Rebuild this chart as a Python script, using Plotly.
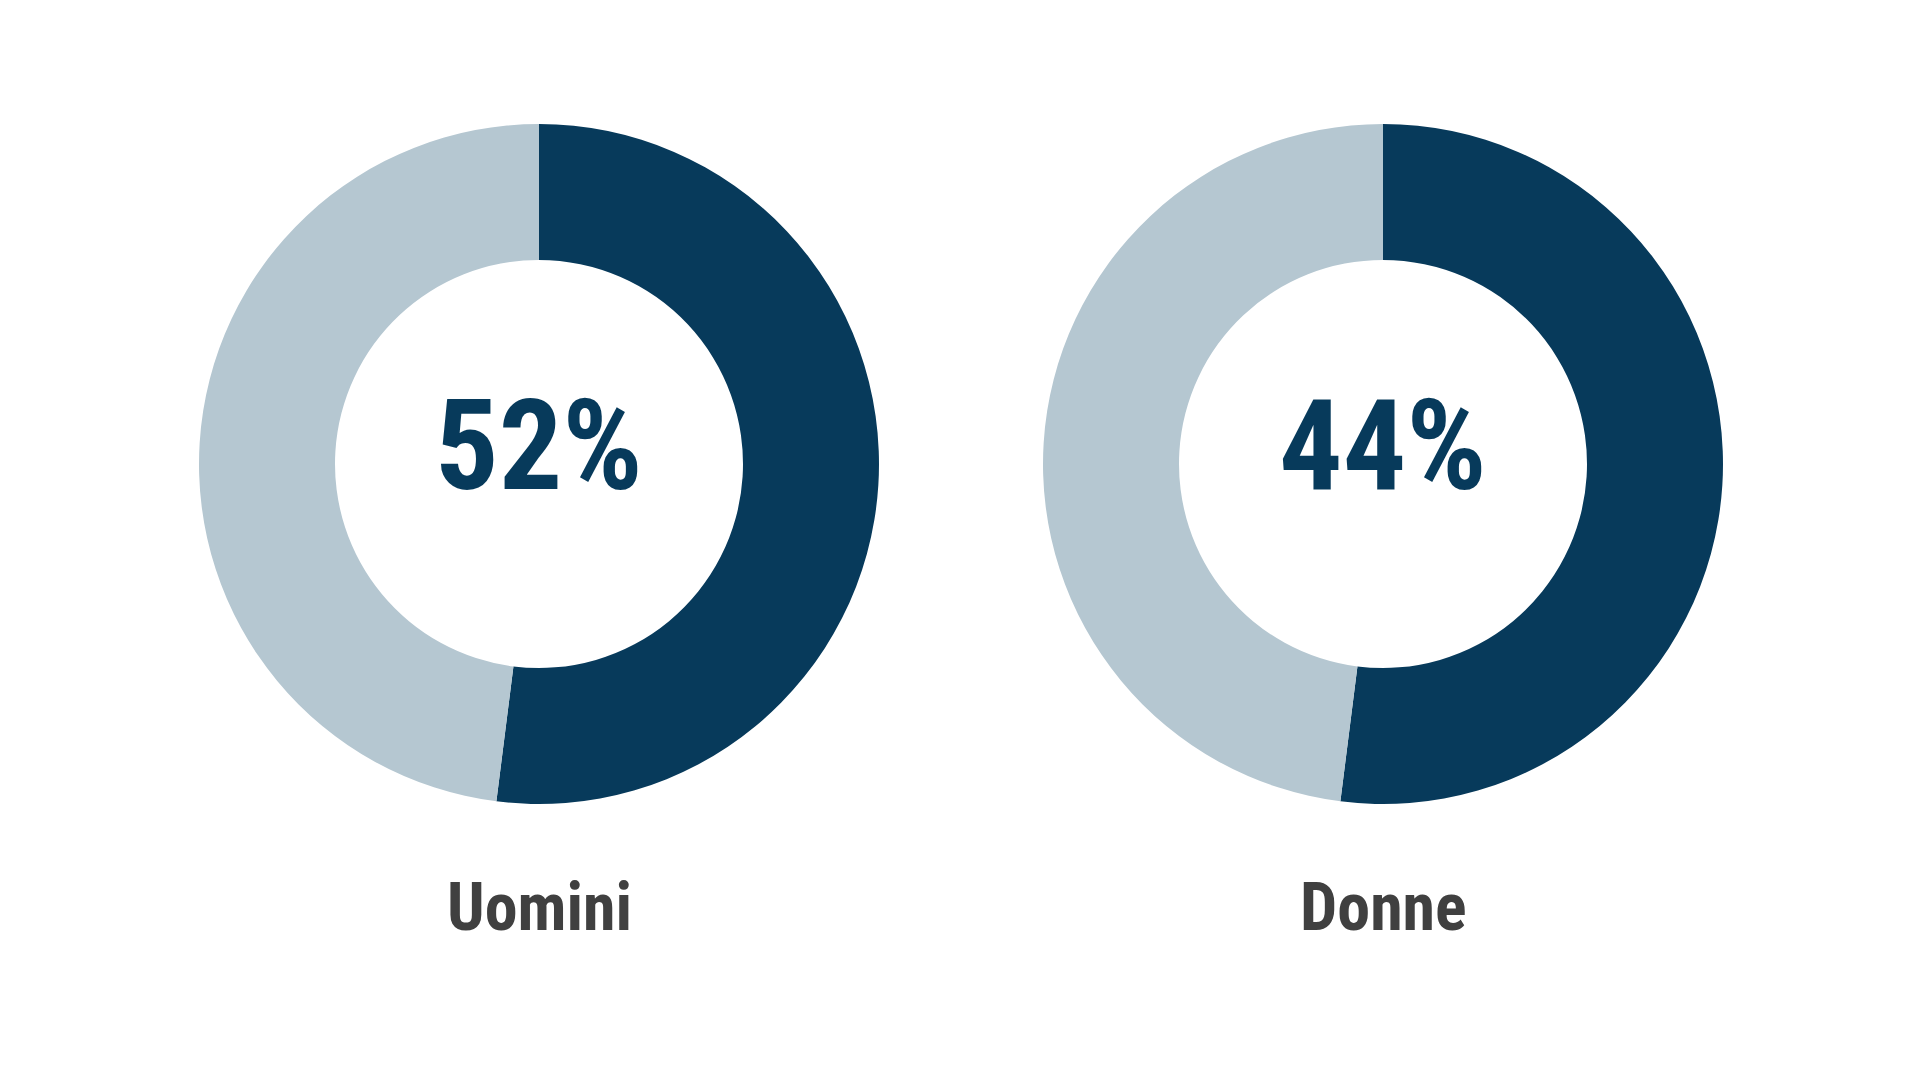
import plotly.graph_objects as go

groups = ["Uomini", "Donne"]
share_labels = ["Quota", "Resto"]
ring_values = [[52, 48], [52, 48]]
pct_text = ["52%", "44%"]

DARK = "#073a5b"
LIGHT = "#b5c7d1"
FONT = "Roboto Condensed, Liberation Sans Narrow, Roboto, sans-serif"

W, H = 1920, 1080
OFF = 7  # page body margin compensation
centers_x = [538 - OFF, 1382 - OFF]
center_y = 463 - OFF
R = 340

fig = go.Figure()
for g, vals, cx in zip(groups, ring_values, centers_x):
    fig.add_trace(go.Pie(
        labels=share_labels, values=vals, name=g,
        hole=0.60, sort=False, direction="clockwise", rotation=0,
        marker=dict(colors=[DARK, LIGHT], line=dict(width=0)),
        textinfo="none", hoverinfo="label+percent", showlegend=False,
        domain=dict(x=[(cx - R) / W, (cx + R) / W],
                    y=[1 - (center_y + R) / H, 1 - (center_y - R) / H]),
    ))

for g, t, cx in zip(groups, pct_text, centers_x):
    fig.add_annotation(x=cx / W, y=1 - (445 - OFF) / H, xref="paper", yref="paper",
                       text=t, showarrow=False, xanchor="center", yanchor="middle",
                       font=dict(family=FONT, size=126, color=DARK, weight="bold"))
    fig.add_annotation(x=cx / W, y=1 - (906 - OFF) / H, xref="paper", yref="paper",
                       text=g, showarrow=False, xanchor="center", yanchor="middle",
                       font=dict(family=FONT, size=66, color="#404040", weight="bold"))

fig.update_layout(width=W, height=H, margin=dict(l=0, r=0, t=0, b=0),
                  paper_bgcolor="white", plot_bgcolor="white")
fig.write_html("out.html")
